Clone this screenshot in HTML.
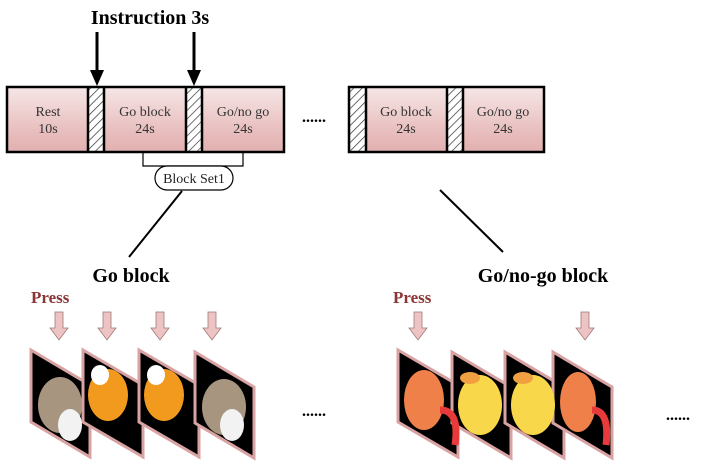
<!DOCTYPE html>
<html><head><meta charset="utf-8"><style>
html,body{margin:0;padding:0;background:#fff;width:708px;height:466px;overflow:hidden}
</style></head><body>
<svg width="708" height="466" viewBox="0 0 708 466" xmlns="http://www.w3.org/2000/svg" font-family="Liberation Serif, serif">
<defs>
<linearGradient id="pk" x1="0" y1="0" x2="0" y2="1">
<stop offset="0" stop-color="#f6e6e6"/><stop offset="0.7" stop-color="#e8bdbd"/><stop offset="1" stop-color="#e2b0b0"/></linearGradient>
<pattern id="hatch" width="6" height="6" patternUnits="userSpaceOnUse" patternTransform="rotate(45)">
<rect width="6" height="6" fill="#fff"/><line x1="0" y1="0" x2="0" y2="6" stroke="#333" stroke-width="1.4"/></pattern>
<g id="parrow"><path d="M-4,0 H4 V16 H9 L0,28 L-9,16 H-4 Z" fill="#eec3c3" stroke="#a07a7a" stroke-width="0.8"/></g>
</defs>
<text x="150" y="24" text-anchor="middle" font-size="20" font-weight="bold">Instruction 3s</text>
<line x1="97" y1="32" x2="97" y2="72" stroke="#000" stroke-width="3"/>
<path d="M90,70 L104,70 L97,86 Z" fill="#000"/>
<line x1="194" y1="32" x2="194" y2="72" stroke="#000" stroke-width="3"/>
<path d="M187,70 L201,70 L194,86 Z" fill="#000"/>
<!-- left timeline -->
<rect x="7" y="87" width="81" height="65" fill="url(#pk)"/>
<rect x="88" y="87" width="16" height="65" fill="url(#hatch)"/>
<rect x="104" y="87" width="82" height="65" fill="url(#pk)"/>
<rect x="186" y="87" width="16" height="65" fill="url(#hatch)"/>
<rect x="202" y="87" width="82" height="65" fill="url(#pk)"/>
<g stroke="#000" stroke-width="2.5" fill="none">
<rect x="7" y="87" width="277" height="65"/>
<line x1="88" y1="87" x2="88" y2="152"/><line x1="104" y1="87" x2="104" y2="152"/>
<line x1="186" y1="87" x2="186" y2="152"/><line x1="202" y1="87" x2="202" y2="152"/>
</g>
<!-- right timeline -->
<rect x="349" y="87" width="17" height="65" fill="url(#hatch)"/>
<rect x="366" y="87" width="81" height="65" fill="url(#pk)"/>
<rect x="447" y="87" width="16" height="65" fill="url(#hatch)"/>
<rect x="463" y="87" width="81" height="65" fill="url(#pk)"/>
<g stroke="#000" stroke-width="2.5" fill="none">
<rect x="349" y="87" width="195" height="65"/>
<line x1="366" y1="87" x2="366" y2="152"/><line x1="447" y1="87" x2="447" y2="152"/><line x1="463" y1="87" x2="463" y2="152"/>
</g>
<g font-size="14" fill="#333" text-anchor="middle">
<text x="48" y="116">Rest</text><text x="48" y="133">10s</text>
<text x="145" y="116">Go block</text><text x="145" y="133">24s</text>
<text x="243" y="116">Go/no go</text><text x="243" y="133">24s</text>
<text x="406" y="116">Go block</text><text x="406" y="133">24s</text>
<text x="503" y="116">Go/no go</text><text x="503" y="133">24s</text>
</g>
<text x="302" y="122" font-size="16" font-weight="bold">......</text>
<!-- bracket -->
<path d="M143,152 V166 H243 V152" fill="none" stroke="#000" stroke-width="1.2"/>
<rect x="155" y="166" width="78" height="24" rx="12" fill="#fff" stroke="#000" stroke-width="1.2"/>
<text x="194" y="183" font-size="14" text-anchor="middle" fill="#222">Block Set1</text>
<line x1="182" y1="191" x2="129" y2="257" stroke="#000" stroke-width="2"/>
<line x1="440" y1="190" x2="503" y2="252" stroke="#000" stroke-width="2"/>
<text x="131" y="282" font-size="20" font-weight="bold" text-anchor="middle">Go block</text>
<text x="543" y="282" font-size="20" font-weight="bold" text-anchor="middle">Go/no-go block</text>
<text x="31" y="303" font-size="17" font-weight="bold" fill="#8b3535">Press</text>
<text x="393" y="303" font-size="17" font-weight="bold" fill="#8b3535">Press</text>
<use href="#parrow" x="59" y="312"/><use href="#parrow" x="107" y="312"/>
<use href="#parrow" x="160" y="312"/><use href="#parrow" x="212" y="312"/>
<use href="#parrow" x="418" y="312"/><use href="#parrow" x="585" y="312"/>
<!-- cards -->
<g stroke="#d9a3a3" stroke-width="3">
<path d="M31,350 L90,385 L90,457 L31,422 Z" fill="#000"/>
<path d="M83,350 L143,385 L143,457 L83,422 Z" fill="#000"/>
<path d="M139,350 L199,385 L199,457 L139,422 Z" fill="#000"/>
<path d="M195,352 L254,387 L254,458 L195,423 Z" fill="#000"/>
<path d="M398,350 L458,385 L458,457 L398,422 Z" fill="#000"/>
<path d="M452,352 L511,387 L511,458 L452,423 Z" fill="#000"/>
<path d="M505,352 L564,387 L564,458 L505,423 Z" fill="#000"/>
<path d="M553,352 L612,387 L612,458 L553,423 Z" fill="#000"/>
</g>
<!-- approximate animals -->
<g>
<ellipse cx="60" cy="405" rx="22" ry="28" fill="#a89580"/><ellipse cx="70" cy="425" rx="12" ry="16" fill="#f2f2f2"/>
<ellipse cx="108" cy="395" rx="20" ry="26" fill="#f29a1e"/><ellipse cx="100" cy="375" rx="9" ry="10" fill="#fff"/>
<ellipse cx="164" cy="395" rx="20" ry="26" fill="#f29a1e"/><ellipse cx="156" cy="375" rx="9" ry="10" fill="#fff"/>
<ellipse cx="224" cy="407" rx="22" ry="28" fill="#a89580"/><ellipse cx="232" cy="425" rx="12" ry="16" fill="#f2f2f2"/>
<ellipse cx="424" cy="400" rx="20" ry="30" fill="#f0804a"/><path d="M440,410 q20,0 15,35" stroke="#e83a3a" stroke-width="7" fill="none"/>
<ellipse cx="480" cy="405" rx="22" ry="30" fill="#f8d84a"/><ellipse cx="470" cy="378" rx="10" ry="6" fill="#f0a040"/>
<ellipse cx="533" cy="405" rx="22" ry="30" fill="#f8d84a"/><ellipse cx="523" cy="378" rx="10" ry="6" fill="#f0a040"/>
<ellipse cx="578" cy="402" rx="18" ry="30" fill="#f0804a"/><path d="M592,410 q18,0 14,35" stroke="#e83a3a" stroke-width="7" fill="none"/>
</g>
<text x="302" y="416" font-size="16" font-weight="bold">......</text>
<text x="666" y="420" font-size="16" font-weight="bold">......</text>
</svg>
</body></html>
